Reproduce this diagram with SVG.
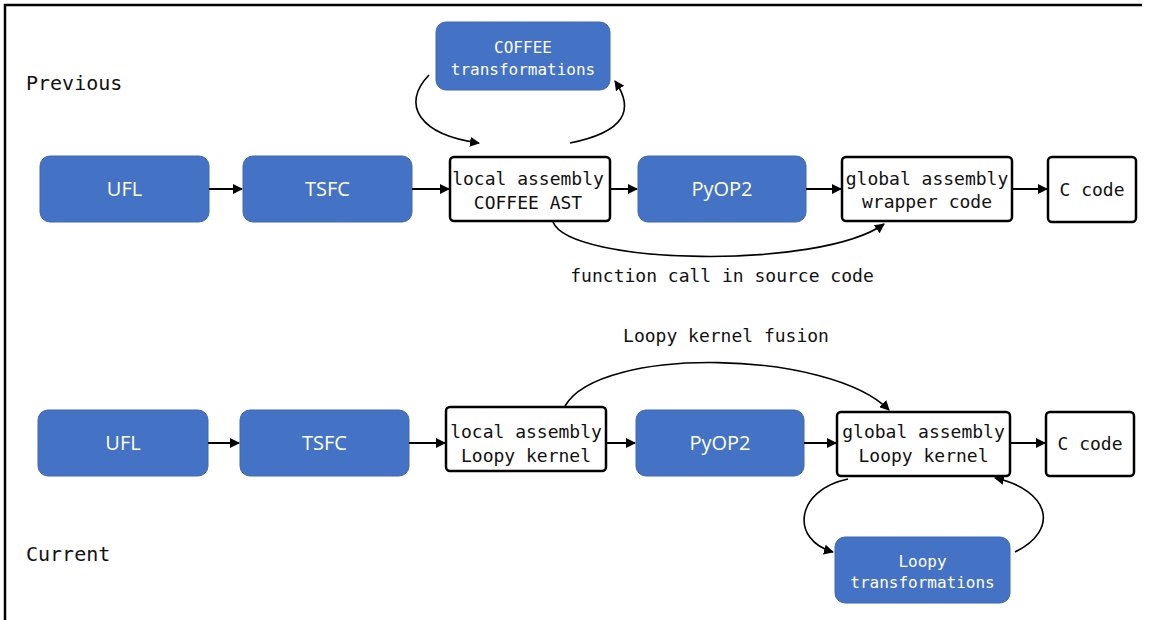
<svg xmlns="http://www.w3.org/2000/svg" width="1151" height="620" viewBox="0 0 1151 620">
<defs>
<marker id="ah" viewBox="0 0 10 10" refX="9" refY="5" markerWidth="10" markerHeight="10" markerUnits="userSpaceOnUse" orient="auto">
<path d="M0,0 L10,5 L0,10 z" fill="#000"/>
</marker>
</defs>
<style>
.blue{fill:#4472C4;stroke:#3e68b6;stroke-width:1}
.white{fill:#fff;stroke:#000;stroke-width:2.5}
.sans{font-family:"Open Sans","Noto Sans","DejaVu Sans",sans-serif;font-size:20px;fill:#fff;text-anchor:middle}
.mono{font-family:"DejaVu Sans Mono","Liberation Mono",monospace;font-size:18px;fill:#111;text-anchor:middle}
.monow{font-family:"DejaVu Sans Mono","Liberation Mono",monospace;font-size:16px;fill:#fff;text-anchor:middle}
.lbl{font-family:"DejaVu Sans Mono","Liberation Mono",monospace;font-size:18px;fill:#111}
.c{fill:none;stroke:#000;stroke-width:2;marker-end:url(#ah)}
.cc{fill:none;stroke:#000;stroke-width:1.6;marker-end:url(#ah)}
</style>
<rect width="1151" height="620" fill="#fff"/>
<path d="M5,620 L5,5 L1142,5" fill="none" stroke="#000" stroke-width="2.5"/>
<text class="lbl" x="26" y="90" style="font-size:20px">Previous</text>
<text class="lbl" x="26" y="561" style="font-size:20px">Current</text>

<g id="ufl1"><rect class="blue" x="40" y="156" width="169" height="66" rx="10"/><text class="sans" x="124.5" y="196">UFL</text></g>
<g id="tsfc1"><rect class="blue" x="243" y="156" width="169" height="66" rx="10"/><text class="sans" x="327.5" y="196">TSFC</text></g>
<g id="local1"><rect class="white" x="450" y="157" width="160" height="64" rx="4"/><text class="mono" x="528" y="185">local assembly</text><text class="mono" x="528" y="209">COFFEE AST</text></g>
<g id="pyop1"><rect class="blue" x="638" y="156" width="168" height="66" rx="10"/><text class="sans" x="722" y="196">PyOP2</text></g>
<g id="global1"><rect class="white" x="842" y="157" width="170" height="64" rx="4"/><text class="mono" x="927" y="185">global assembly</text><text class="mono" x="927" y="208">wrapper code</text></g>
<g id="ccode1"><rect class="white" x="1048" y="157" width="88" height="65" rx="4"/><text class="mono" x="1092" y="196">C code</text></g>
<g id="coffee"><rect class="blue" x="436" y="22" width="174" height="68" rx="10"/><text class="monow" x="523" y="53">COFFEE</text><text class="monow" x="523" y="75">transformations</text></g>

<g id="ufl2"><rect class="blue" x="38" y="410" width="170" height="66" rx="10"/><text class="sans" x="123" y="450">UFL</text></g>
<g id="tsfc2"><rect class="blue" x="240" y="410" width="169" height="66" rx="10"/><text class="sans" x="324.5" y="450">TSFC</text></g>
<g id="local2"><rect class="white" x="446" y="407" width="160" height="64" rx="4"/><text class="mono" x="526" y="438">local assembly</text><text class="mono" x="526" y="462">Loopy kernel</text></g>
<g id="pyop2"><rect class="blue" x="636" y="410" width="168" height="66" rx="10"/><text class="sans" x="720" y="450">PyOP2</text></g>
<g id="global2"><rect class="white" x="837" y="412" width="173" height="64" rx="4"/><text class="mono" x="923.5" y="438">global assembly</text><text class="mono" x="923.5" y="462">Loopy kernel</text></g>
<g id="ccode2"><rect class="white" x="1046" y="412" width="88" height="64" rx="4"/><text class="mono" x="1090" y="450">C code</text></g>
<g id="loopyt"><rect class="blue" x="835" y="537" width="175" height="66" rx="10"/><text class="monow" x="922.5" y="567">Loopy</text><text class="monow" x="922.5" y="588">transformations</text></g>

<g id="connectors">
<path class="c" d="M209,189 L242,189"/>
<path class="c" d="M412,189 L449,189"/>
<path class="c" d="M610,189 L637,189"/>
<path class="c" d="M806,189 L841,189"/>
<path class="c" d="M1012,189 L1047,189"/>
<path class="cc" d="M429,75 C400,105 420,135 479,143"/>
<path class="cc" d="M570,143 C625,132 635,110 615,81"/>
<path class="cc" d="M553,222 C570,265 820,270 884,224"/>
<path class="c" d="M208,443 L239,443"/>
<path class="c" d="M409,443 L445,443"/>
<path class="c" d="M606,443 L635,443"/>
<path class="c" d="M804,443 L836,443"/>
<path class="c" d="M1010,443 L1045,443"/>
<path class="cc" d="M565,406 C600,345 830,350 889,410"/>
<path class="cc" d="M848,479 C795,490 790,540 833,552"/>
<path class="cc" d="M1015,552 C1060,530 1050,490 995,478"/>
</g>
<text class="lbl" x="722" y="282" text-anchor="middle">function call in source code</text>
<text class="lbl" x="726" y="342" text-anchor="middle">Loopy kernel fusion</text>
</svg>
